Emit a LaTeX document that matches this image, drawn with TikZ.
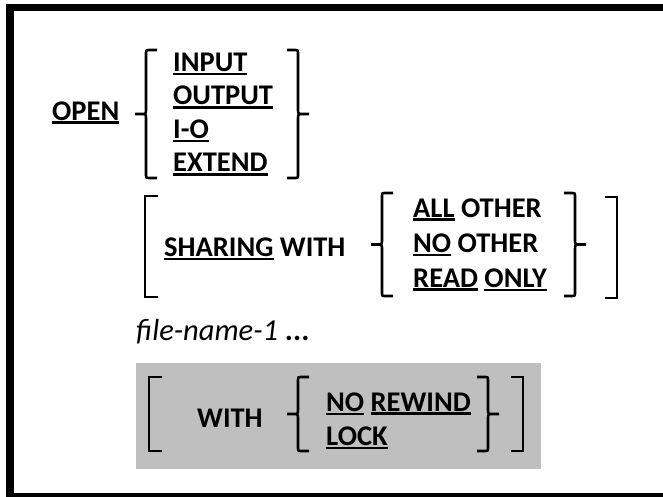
\documentclass[tikz,border=0pt]{standalone}
\usepackage{fontspec}
\setmainfont{Carlito}
\usetikzlibrary{positioning}
\definecolor{bx}{HTML}{BFBFBF}
\newcommand{\ukw}[1]{\vtop{\hbox{#1}\kern1.3pt\hrule height 2.8pt}}
\newcommand{\curlyL}[3]{\pgfmathsetmacro\bm{(#2+#3)/2}
  \draw[br]({#1+11},#2)--({#1+4},#2)..controls(#1,#2)..(#1,{#2+4})--(#1,{\bm-5})..controls(#1,\bm)..({#1-5},\bm)--({#1-11},\bm)
    --({#1-5},\bm)..controls(#1,\bm)..(#1,{\bm+5})--(#1,{#3-4})..controls(#1,#3)..({#1+4},#3)--({#1+11},#3);}
\newcommand{\curlyR}[3]{\pgfmathsetmacro\bm{(#2+#3)/2}
  \draw[br]({#1-11},#2)--({#1-4},#2)..controls(#1,#2)..(#1,{#2+4})--(#1,{\bm-5})..controls(#1,\bm)..({#1+5},\bm)--({#1+11},\bm)
    --({#1+5},\bm)..controls(#1,\bm)..(#1,{\bm+5})--(#1,{#3-4})..controls(#1,#3)..({#1-4},#3)--({#1-11},#3);}
\newcommand{\squareL}[3]{\draw[br]({#1+13},#2)-|(#1,#3)--({#1+13},#3);}
\newcommand{\squareR}[3]{\draw[br]({#1-12},#2)-|(#1,#3)--({#1-12},#3);}
\begin{document}
\begin{tikzpicture}[x=1pt,y=-1pt,
  kw/.style={font=\fontsize{28.5}{33}\selectfont\bfseries,inner sep=0pt,anchor=base west},
  nm/.style={font=\fontsize{30.5}{33}\selectfont,inner sep=0pt,anchor=base west},
  br/.style={line width=2.6pt}]
\useasboundingbox(0,0)rectangle(663,496);
\begin{scope}
\clip(0,0)rectangle(663,496);
\draw[line width=7.5pt](700,7.5)--(10,7.5)--(10,497)--(700,497);
\end{scope}
\node[kw](op)at(52,120){\ukw{OPEN}};
\curlyL{146}{50}{178}
\foreach \w[count=\i] in {INPUT,OUTPUT,I-O,EXTEND}
  \node[kw](md\i)at(173,{71+33.5*(\i-1)}){\ukw{\w}};
\curlyR{298}{50}{178}
\squareL{145}{196}{297}
\node[kw](sh)at(164,256){\ukw{SHARING} WITH};
\curlyL{382}{193}{296}
\node[kw](s1)at(413,217){\ukw{ALL} OTHER};
\node[kw](s2)at(413,252){\ukw{NO} OTHER};
\node[kw](s3)at(413,287){\ukw{READ} \ukw{ONLY}};
\curlyR{575}{193}{296}
\squareR{617}{197}{298}
\node[nm](fn)at(136,340){\textit{file-name-1} \textbf{...}};
\fill[bx](136,363)rectangle(541,469);
\squareL{149}{377}{451}
\node[kw](wt)at(197,427){WITH};
\curlyL{298}{377}{451}
\node[kw](w1)at(326,411){\ukw{NO} \ukw{REWIND}};
\node[kw](w2)at(326,445){\ukw{LOCK}};
\curlyR{488}{377}{451}
\squareR{523}{377}{451}
\end{tikzpicture}
\end{document}
